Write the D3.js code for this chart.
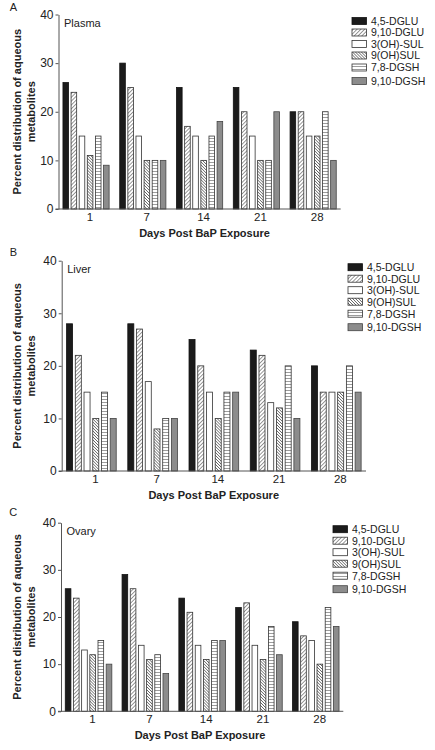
<!DOCTYPE html>
<html><head><meta charset="utf-8">
<script src="https://cdn.jsdelivr.net/npm/d3@7"></script>
<style>
html,body{margin:0;padding:0;background:#fff;}
svg text{font-family:"Liberation Sans",Arial,sans-serif;fill:#222;}
</style></head>
<body><svg id="chart" width="435" height="750"></svg>
<script>
// ---- data ----
const days = ["1", "7", "14", "21", "28"];
const series = ["4,5-DGLU", "9,10-DGLU", "3(OH)-SUL", "9(OH)SUL", "7,8-DGSH", "9,10-DGSH"];
const plasma = [[26,24,15,11,15,9],[30,25,15,10,10,10],[25,17,15,10,15,18],[25,20,15,10,10,20],[20,20,15,15,20,10]];
const liver  = [[28,22,15,10,15,10],[28,27,17,8,10,10],[25,20,15,10,15,15],[23,22,13,12,20,10],[20,15,15,15,20,15]];
const ovary  = [[26,24,13,12,15,10],[29,26,14,11,12,8],[24,21,14,11,15,15],[22,23,14,11,18,12],[19,16,15,10,22,18]];
const yTicks = [0, 10, 20, 30, 40];
const panelLetters = ["A", "B", "C"];
const panelNames = ["Plasma", "Liver", "Ovary"];
const xTitle = "Days Post BaP Exposure";
const yTitle = ["Percent distribution of aqueous", "metabolites"];

// ---- layout ----
const panels = [
  {data: plasma, left: 58.5, right: 340.7, y0: 209, y40: 14.5, p: 0.187, legX: 352, titleX: 204.5, letterY: 10.5},
  {data: liver,  left: 61.7, right: 366,   y0: 471, y40: 260.7, p: 0.189, legX: 348, titleX: 213.7, letterY: 255.5},
  {data: ovary,  left: 61,   right: 343.3, y0: 711.3, y40: 522.7, p: 0.18, legX: 333, titleX: 200, letterY: 515.5}
];
const legOffsets = [6.5, 18, 29.5, 41, 53, 66.5];

const svg = d3.select("#chart");
const defs = svg.append("defs");
function hatch(id, angle, spacing, color, width, bg) {
  const p = defs.append("pattern").attr("id", id).attr("patternUnits", "userSpaceOnUse")
    .attr("width", spacing).attr("height", spacing)
    .attr("patternTransform", `rotate(${angle})`);
  p.append("rect").attr("width", spacing).attr("height", spacing).attr("fill", bg);
  p.append("line").attr("x1", 0).attr("y1", 0).attr("x2", 0).attr("y2", spacing)
    .attr("stroke", color).attr("stroke-width", width);
}
hatch("dglu", 45, 2.7, "#333", 1.0, "#fff");
hatch("sul", -45, 2.1, "#222", 1.0, "#fff");
hatch("dgsh", 90, 3.0, "#222", 0.9, "#fff");

const fills = ["#1b1b1b", "url(#dglu)", "#ffffff", "url(#sul)", "url(#dgsh)", "#8c8c8c"];
const strokes = ["#111", "#333", "#333", "#333", "#333", "#444"];

panels.forEach((P, pi) => {
  const g = svg.append("g");
  const y = d3.scaleLinear().domain([0, 40]).range([P.y0, P.y40]);
  const x0 = d3.scaleBand().domain(days).range([P.left, P.right]).paddingInner(P.p);
  const o = (4.97 - 5 + P.p) / 2;
  x0.paddingOuter(Math.max(0, o));
  const x1 = d3.scaleBand().domain(series).range([0, x0.bandwidth()]).paddingInner(0.31);

  days.forEach((d, di) => {
    series.forEach((s, si) => {
      const v = P.data[di][si];
      g.append("rect")
        .attr("x", x0(d) + x1(s))
        .attr("y", y(v))
        .attr("width", x1.bandwidth())
        .attr("height", y(0) - y(v))
        .attr("fill", fills[si])
        .attr("stroke", strokes[si])
        .attr("stroke-width", 0.8);
    });
  });

  const ya = g.append("g").attr("transform", `translate(${P.left},0)`)
    .call(d3.axisLeft(y).tickValues(yTicks).tickSize(3).tickSizeOuter(0).tickPadding(2));
  ya.selectAll("path,line").attr("stroke", "#555");
  ya.selectAll("text").attr("font-size", 12).attr("fill", "#333")
    .style("font-family", '"Liberation Sans",Arial,sans-serif');

  const xa = g.append("g").attr("transform", `translate(0,${P.y0})`)
    .call(d3.axisBottom(x0).tickSize(0).tickSizeOuter(0).tickPadding(4));
  xa.select("path").attr("stroke", "#555").attr("d", `M${P.left - 3},0H${P.right}`);
  xa.selectAll("text").attr("font-size", 11.5).attr("fill", "#333").attr("dx", 4)
    .style("font-family", '"Liberation Sans",Arial,sans-serif');

  g.append("text").attr("x", P.titleX).attr("y", P.y0 + 27.5).attr("text-anchor", "middle")
    .attr("font-size", 11).attr("font-weight", "bold").text(xTitle);

  const cy = (P.y0 + P.y40) / 2;
  yTitle.forEach((t, i) => {
    g.append("text").attr("transform", `translate(${20.6 + i * 14},${cy}) rotate(-90)`)
      .attr("text-anchor", "middle").attr("font-size", 11).attr("font-weight", "bold").text(t);
  });

  g.append("text").attr("x", 13.3).attr("y", P.letterY).attr("text-anchor", "middle")
    .attr("font-size", 11).text(panelLetters[pi]);
  g.append("text").attr("x", P.left + 5.5).attr("y", P.y40 + 12.5)
    .attr("font-size", 11).text(panelNames[pi]);

  series.forEach((s, si) => {
    const ly = P.y40 + legOffsets[si];
    g.append("rect").attr("x", P.legX).attr("y", ly - 3.5).attr("width", 14.5).attr("height", 7)
      .attr("fill", fills[si]).attr("stroke", strokes[si]).attr("stroke-width", 0.8);
    g.append("text").attr("x", P.legX + 19).attr("y", ly + 3.8)
      .attr("font-size", 10.5).text(s);
  });
});
</script></body></html>
